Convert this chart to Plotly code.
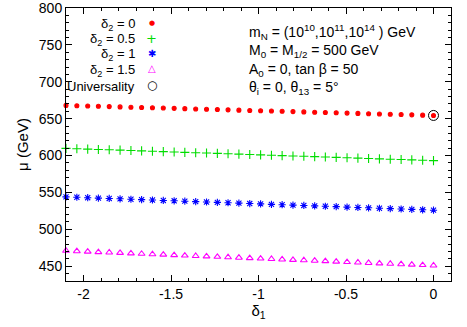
import plotly.graph_objects as go

# delta_1 grid (x axis)
delta1 = [-2.1, -2.038, -1.976, -1.915, -1.853, -1.791, -1.729, -1.668, -1.606,
          -1.544, -1.482, -1.421, -1.359, -1.297, -1.235, -1.174, -1.112, -1.05,
          -0.988, -0.926, -0.865, -0.803, -0.741, -0.679, -0.618, -0.556, -0.494,
          -0.432, -0.371, -0.309, -0.247, -0.185, -0.124, -0.062, 0.0]

# mu (GeV) for each delta_2
mu_d2_0 = [668.0, 667.6, 667.2, 666.8, 666.4, 666.0, 665.6, 665.2, 664.8, 664.4,
           664.0, 663.6, 663.2, 662.8, 662.4, 662.0, 661.6, 661.2, 660.8, 660.4,
           660.0, 659.6, 659.2, 658.8, 658.4, 658.0, 657.6, 657.2, 656.8, 656.4,
           656.0, 655.6, 655.2, 654.8, 654.4]
mu_d2_05 = [609.8, 609.3, 608.8, 608.3, 607.9, 607.4, 606.9, 606.4, 605.9, 605.4,
            604.9, 604.4, 603.9, 603.5, 603.0, 602.5, 602.0, 601.5, 601.0, 600.5,
            600.0, 599.5, 599.1, 598.6, 598.1, 597.6, 597.1, 596.6, 596.1, 595.6,
            595.1, 594.7, 594.2, 593.7, 593.2]
mu_d2_1 = [544.0, 543.5, 542.9, 542.4, 541.9, 541.4, 540.8, 540.3, 539.8, 539.2,
           538.7, 538.2, 537.6, 537.1, 536.6, 536.1, 535.5, 535.0, 534.5, 533.9,
           533.4, 532.9, 532.4, 531.8, 531.3, 530.8, 530.2, 529.7, 529.2, 528.6,
           528.1, 527.6, 527.1, 526.5, 526.0]
mu_d2_15 = [471.0, 470.4, 469.8, 469.2, 468.6, 468.1, 467.5, 466.9, 466.3, 465.7,
            465.1, 464.5, 463.9, 463.4, 462.8, 462.2, 461.6, 461.0, 460.4, 459.8,
            459.2, 458.6, 458.1, 457.5, 456.9, 456.3, 455.7, 455.1, 454.5, 453.9,
            453.4, 452.8, 452.2, 451.6, 451.0]

# universality point
univ_x = [0.0]
univ_y = [654.4]

# name, values, colour, marker, size, key glyph, key glyph size
series = [
    ("δ<sub>2</sub> = 0", mu_d2_0, "#ff0000", "circle", 4, "●", 7),
    ("δ<sub>2</sub> = 0.5", mu_d2_05, "#00dd00", "cross-thin-open", 6.5, "+", 13),
    ("δ<sub>2</sub> = 1", mu_d2_1, "#0000ff", "asterisk-open", 6, "✱", 10),
    ("δ<sub>2</sub> = 1.5", mu_d2_15, "#ff00ff", "triangle-up-open", 6, "△", 10),
]

info_lines = [
    "m<sub>N</sub> = (10<sup>10</sup>,10<sup>11</sup>,10<sup>14</sup> ) GeV",
    "M<sub>0</sub> = M<sub>1/2</sub> = 500 GeV",
    "A<sub>0</sub> = 0, tan β = 50",
    "θ<sub>i</sub> = 0, θ<sub>13</sub> = 5°",
]

fig = go.Figure()

for name, vals, color, sym, size, _, _ in series:
    fig.add_trace(
        go.Scatter(
            x=delta1,
            y=vals,
            mode="markers",
            name=name,
            cliponaxis=False,
            marker=dict(symbol=sym, size=size, color=color,
                        line=dict(width=1.1, color=color)),
        )
    )

fig.add_trace(
    go.Scatter(
        x=univ_x,
        y=univ_y,
        mode="markers",
        name="Universality",
        cliponaxis=False,
        marker=dict(symbol="circle-open", size=10, color="black",
                    line=dict(width=1, color="black")),
    )
)

# gnuplot-style key: label right-aligned, sample glyph to the right
key_rows = [(s[0], s[2], s[5], s[6]) for s in series]
key_rows.append(("Universality", "black", "○", 12))
key_text_y = [0.941, 0.885, 0.828, 0.771, 0.714]
key_glyph_y = [0.945, 0.890, 0.833, 0.777, 0.718]
for (label, color, glyph, gsize), ty, gy in zip(key_rows, key_text_y, key_glyph_y):
    fig.add_annotation(
        x=0.184, y=ty, xref="paper", yref="paper", text=label,
        showarrow=False, xanchor="right", yanchor="middle",
        font=dict(size=13, color="black"),
    )
    fig.add_annotation(
        x=0.223, y=gy, xref="paper", yref="paper", text=glyph,
        showarrow=False, xanchor="center", yanchor="middle",
        font=dict(size=gsize, color=color, family="DejaVu Sans"),
    )

info_y = [0.912, 0.842, 0.773, 0.707]
for txt, yy in zip(info_lines, info_y):
    fig.add_annotation(
        x=0.47, y=yy, xref="paper", yref="paper",
        text=txt, showarrow=False, xanchor="left", yanchor="middle",
        font=dict(size=14, color="black"),
    )

axis_common = dict(
    showline=True,
    linecolor="black",
    linewidth=1,
    mirror="allticks",
    ticks="inside",
    ticklen=6,
    tickcolor="black",
    showgrid=False,
    zeroline=False,
    automargin=False,
    ticklabeloverflow="allow",
    tickfont=dict(size=14, color="black"),
)

fig.update_layout(
    width=467,
    height=327,
    margin=dict(l=66, r=16, t=8, b=46),
    paper_bgcolor="white",
    plot_bgcolor="white",
    font=dict(family="Liberation Sans, Arial, sans-serif", size=14, color="black"),
    showlegend=False,
    xaxis=dict(
        axis_common,
        range=[-2.1, 0.1],
        tickvals=[-2, -1.5, -1, -0.5, 0],
        ticktext=["-2", "-1.5", "-1", "-0.5", "0"],
        minor=dict(ticks="inside", ticklen=3, dtick=0.1, tick0=0, tickcolor="black"),
        title=dict(text="δ<sub>1</sub>", font=dict(size=15), standoff=2),
    ),
    yaxis=dict(
        axis_common,
        range=[430, 800.05],
        tickvals=[450, 500, 550, 600, 650, 700, 750, 800],
        minor=dict(ticks="inside", ticklen=3, dtick=10, tick0=0, tickcolor="black"),
        title=dict(text="μ (GeV)", font=dict(size=15), standoff=6),
    ),
)

# drop the browser's default 8px body margin so the figure fills the window
fig.write_html(
    "out.html",
    config={"displayModeBar": False},
    post_script="document.body.style.margin='0';",
)
